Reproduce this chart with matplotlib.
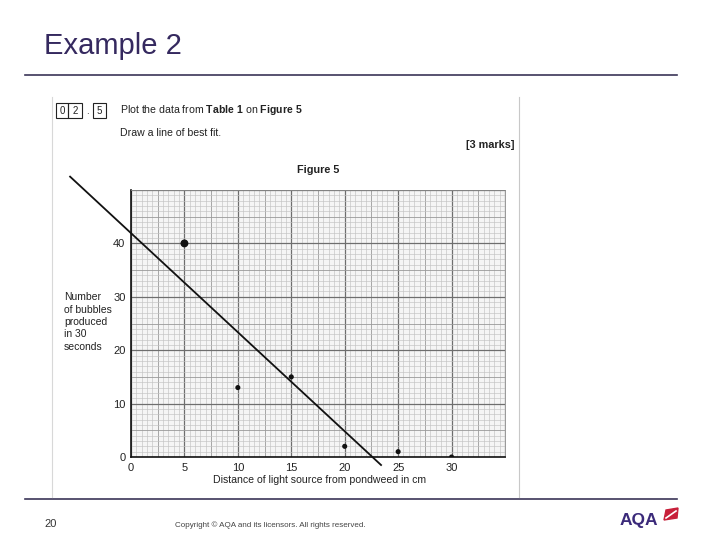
import numpy as np
import matplotlib
matplotlib.use('Agg')
import matplotlib.pyplot as plt
from matplotlib.patches import Rectangle, Polygon

plt.rcParams['font.family'] = ['Liberation Sans', 'DejaVu Sans']
plt.rcParams['mathtext.fontset'] = 'custom'
plt.rcParams['mathtext.rm'] = 'Liberation Sans'
plt.rcParams['mathtext.bf'] = 'Liberation Sans:bold'

# data
distance = [5, 10, 15, 20, 25, 30]
bubbles = [40, 13, 15, 2, 1, 0]
fit_x = [-5.7, 23.4]
fit_y = [52.5, -1.5]
x_ticks = [0, 5, 10, 15, 20, 25, 30]
y_ticks = [0, 10, 20, 30, 40]

W, H = 720, 540
fig = plt.figure(figsize=(7.2, 5.4), dpi=100)

def fx(px):
    return px / W

def fy(py):
    return 1 - py / H

purple = '#35295f'
line_col = '#3b3557'
ink = '#222222'

# slide header / footer
fig.text(fx(44), fy(46), "Example 2", fontsize=21, color=purple, va='center', ha='left')
fig.add_artist(plt.Line2D([fx(25), fx(677)], [fy(75), fy(75)], color=line_col, lw=1.2))
fig.add_artist(plt.Line2D([fx(25), fx(677)], [fy(499), fy(499)], color=line_col, lw=1.2))
fig.text(fx(44), fy(524), "20", fontsize=8, color='#333333', va='center')
fig.text(fx(175), fy(525), "Copyright \u00a9 AQA and its licensors. All rights reserved.",
         fontsize=5.8, color='#444444', va='center')
fig.text(fx(620), fy(521), "AQA", fontsize=12.5, fontweight='bold', color='#3b2a7a', va='center')
fig.add_artist(Polygon([[fx(664), fy(520)], [fx(677), fy(518)], [fx(678), fy(508)], [fx(666), fy(510)]],
                       closed=True, transform=fig.transFigure, color='#c8203a'))
fig.add_artist(plt.Line2D([fx(666), fx(676)], [fy(518), fy(511)], color='white', lw=1.2))

# scanned page edges
fig.add_artist(plt.Line2D([fx(52), fx(52)], [fy(97), fy(497)], color='#d8d8d8', lw=0.8))
fig.add_artist(plt.Line2D([fx(519), fx(519)], [fy(97), fy(497)], color='#c8c8c8', lw=0.8))

# question text
for x0, x1 in [(56, 68), (68, 82), (93, 106)]:
    fig.add_artist(Rectangle((fx(x0), fy(118)), fx(x1 - x0), (118 - 103) / H,
                             transform=fig.transFigure, fill=False, ec=ink, lw=0.8))
for x, s in [(62, "0"), (75, "2"), (87.5, "."), (99.5, "5")]:
    fig.text(fx(x), fy(111), s, fontsize=7, ha='center', va='center', color=ink)
fig.text(fx(120), fy(110), r"Plot the data from $\mathbf{Table\ 1}$ on $\mathbf{Figure\ 5}$",
         fontsize=7.6, va='center', color=ink)
fig.text(fx(120), fy(133), "Draw a line of best fit.", fontsize=7.6, va='center', color=ink)
fig.text(fx(514), fy(145), "[3 marks]", fontsize=7.8, fontweight='bold', ha='right', va='center',
         color=ink)
fig.text(fx(318), fy(170), "Figure 5", fontsize=7.8, fontweight='bold', ha='center', va='center',
         color=ink)

# graph paper axes
ax = fig.add_axes([fx(131), fy(457), fx(505 - 131), (457 - 190) / H])
ax.set_xlim(0, 35)
ax.set_ylim(0, 50)
ax.set_facecolor('#f5f5f5')

for v in np.arange(0, 35.01, 0.5):
    c, w = ('#6e6e6e', 0.9) if v % 5 == 0 else (('#9a9a9a', 0.6) if v % 2.5 == 0 else ('#c2c2c2', 0.45))
    ax.axvline(v, color=c, lw=w, zorder=0)
for v in np.arange(0, 50.01, 1):
    c, w = ('#6e6e6e', 0.9) if v % 10 == 0 else (('#9a9a9a', 0.6) if v % 5 == 0 else ('#c2c2c2', 0.45))
    ax.axhline(v, color=c, lw=w, zorder=0)

ax.scatter(distance, bubbles, s=[22, 7, 7, 7, 7, 7], color='#111111', zorder=3)
ax.plot(fit_x, fit_y, color='#111111', lw=1.3, clip_on=False, zorder=4)

ax.set_xticks(x_ticks)
ax.set_yticks(y_ticks)
ax.tick_params(length=0, labelsize=8, colors=ink, pad=4)
for side in ['left', 'bottom']:
    ax.spines[side].set_color('#111111')
    ax.spines[side].set_linewidth(1.2)
for side in ['top', 'right']:
    ax.spines[side].set_color('#888888')
    ax.spines[side].set_linewidth(0.6)

fig.text(fx(213), fy(480), "Distance of light source from pondweed in cm", fontsize=7.6,
         va='center', color=ink)
fig.text(fx(64), fy(322), "Number\nof bubbles\nproduced\nin 30\nseconds", fontsize=7.5,
         va='center', ha='left', color=ink, linespacing=1.3)

fig.savefig('out.png', dpi=100)
